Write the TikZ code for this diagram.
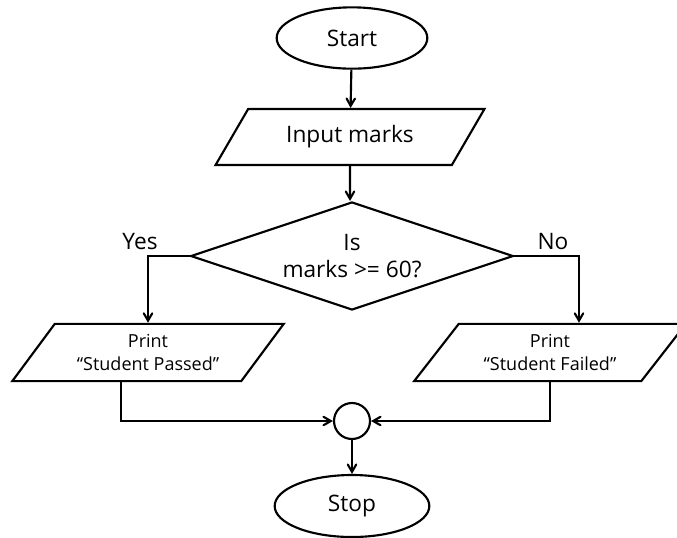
\documentclass[tikz,border=0pt]{standalone}
\usepackage{fontspec}
\setmainfont{Open Sans}
\usepackage{tikz}
\usetikzlibrary{shapes,positioning,arrows,calc}
\tikzset{textbox/.style={draw=none,color=black,font=\fontsize{17}{20}\selectfont},
         terminal/.style={ellipse,draw,line width=1.6pt,inner sep=0pt,font=\fontsize{17}{20}\selectfont},
         iobox/.style={trapezium,trapezium left angle=48,trapezium right angle=132,trapezium stretches=true,
                       draw,line width=1.6pt,inner sep=0pt,align=center},
         decision/.style={diamond,aspect=3,draw,line width=1.6pt,inner sep=0pt,align=center,
                          font=\fontsize{17}{20}\selectfont},
         joint/.style={circle,draw,line width=1.6pt,minimum size=27pt,inner sep=0pt},
         flowline/.style={->,>=angle 60,line width=1.6pt}}

\begin{document}
\begin{tikzpicture}[x=0.75pt,y=-0.75pt]
        \useasboundingbox (0,0) rectangle (677,537);
        \node[terminal,minimum width=113pt,minimum height=46pt] (start) at (352,38) {Start};
        \node[iobox,minimum width=202pt,minimum height=42pt,font=\fontsize{17}{20}\selectfont] (input) at (350,137) {Input marks};
        \node[decision,minimum width=242pt,minimum height=81pt] (dec) at (352,256) {Is\\marks >= 60?};

        \node[iobox,minimum width=204pt,minimum height=43pt,font=\fontsize{13.5}{17}\selectfont] (pass) at (148,352.5) {Print\\“Student Passed”};
        \node[iobox,minimum width=204pt,minimum height=43pt,font=\fontsize{13.5}{17}\selectfont] (fail) at (550,352.5) {Print\\“Student Failed”};

        \node[joint] (join) at (352,421) {};
        \node[terminal,minimum width=116pt,minimum height=46.5pt] (stop) at (352,506) {Stop};

        \node[textbox] (yes) at (140,242) {Yes};
        \node[textbox] (no) at (553,242) {No};
        \coordinate (nobend) at (579,256);

        \draw[flowline] (start) -- (input);
        \draw[flowline] (input) -- (input |- dec.north);
        \draw[flowline] (dec.west) -| (pass.north);
        \draw[flowline] (dec.east) -- (nobend) -- (nobend |- fail.north);
        \draw[flowline] ([xshift=-20.25pt]pass.south) |- (join);
        \draw[flowline] (fail.south) |- (join);
        \draw[flowline] (join) -- (stop);
    \end{tikzpicture}
\end{document}
